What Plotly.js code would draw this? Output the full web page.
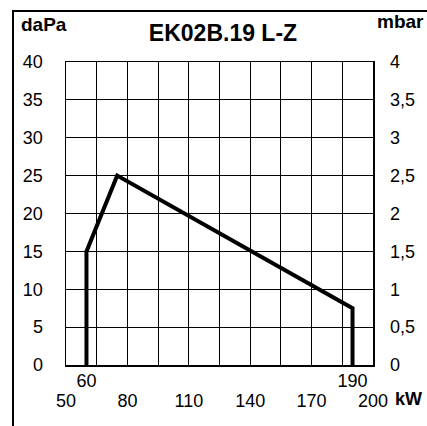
<!DOCTYPE html>
<html><head><meta charset="utf-8">
<script src="https://cdn.plot.ly/plotly-3.0.1.min.js"></script>
<style>
body{margin:0;padding:0;background:#fff;}
#frame{position:absolute;left:12px;top:10px;width:500px;height:500px;border:2px solid #000;box-sizing:border-box;}
#chart{position:absolute;left:0;top:0;width:427px;height:426px;}
</style></head>
<body>
<div id="frame"></div>
<div id="chart"></div>
<script>
// Data
const powerKW = [60, 60, 75, 190, 190];
const pressureDaPa = [0, 15, 25, 7.5, 0];
const gridKW = [50, 65, 80, 95, 110, 125, 140, 155, 170, 185, 200];
const gridLabels = ['50', '', '80', '', '110', '', '140', '', '170', '', '200'];
const rangeTicksKW = [60, 190];
const rangeTickLabels = ['60', '190'];
const daPaTicks = [0, 5, 10, 15, 20, 25, 30, 35, 40];
const mbarTicks = [0, 0.5, 1, 1.5, 2, 2.5, 3, 3.5, 4];
const titleText = 'EK02B.19 L-Z';

const F = 'Liberation Sans, Arial, sans-serif';
const traces = [
  {x: powerKW, y: pressureDaPa, type: 'scatter', mode: 'lines',
   line: {color: '#000', width: 4, shape: 'linear'}, xaxis: 'x', yaxis: 'y',
   hoverinfo: 'skip', showlegend: false},
  {x: [50], y: [0], xaxis: 'x2', yaxis: 'y2', type: 'scatter', mode: 'markers',
   marker: {opacity: 0}, showlegend: false, hoverinfo: 'skip'}
];
const layout = {
  width: 427, height: 426,
  margin: {l: 66, r: 54, t: 62, b: 61},
  paper_bgcolor: 'rgba(0,0,0,0)', plot_bgcolor: '#fff',
  separators: ',.',
  font: {family: F, size: 18, color: '#000'},
  showlegend: false,
  title: {text: '<b>' + titleText + '</b>', x: 223/427, xanchor: 'center',
          y: 1 - 33/426, yanchor: 'middle', font: {family: F, size: 23, color: '#000'}},
  xaxis: {range: [50, 200], tickvals: gridKW, ticktext: gridLabels,
          showgrid: true, gridcolor: '#000', gridwidth: 1,
          showline: true, linecolor: '#000', linewidth: 1.5, mirror: true,
          ticks: '', zeroline: false, ticklabelstandoff: 19, fixedrange: true},
  xaxis2: {overlaying: 'x', anchor: 'y', side: 'bottom', range: [50, 200],
           tickvals: rangeTicksKW, ticktext: rangeTickLabels, showgrid: false,
           showline: false, ticks: '', zeroline: false, ticklabelstandoff: 3},
  yaxis: {range: [0, 40], tickvals: daPaTicks, showgrid: true, gridcolor: '#000', gridwidth: 1,
          showline: true, linecolor: '#000', linewidth: 1.5, mirror: true,
          ticks: '', zeroline: false, ticklabelstandoff: 18},
  yaxis2: {overlaying: 'y', anchor: 'x', side: 'right', range: [0, 4], tickvals: mbarTicks,
           showgrid: false, showline: false, ticks: '', zeroline: false, ticklabelstandoff: 16},
  annotations: [
    {text: '<b>daPa</b>', xref: 'paper', yref: 'paper', x: (44-66)/307, y: (365-25)/303,
     xanchor: 'center', yanchor: 'middle', showarrow: false, font: {family: F, size: 19}},
    {text: '<b>mbar</b>', xref: 'paper', yref: 'paper', x: (400-66)/307, y: (365-22)/303,
     xanchor: 'center', yanchor: 'middle', showarrow: false, font: {family: F, size: 19}},
    {text: '<b>kW</b>', xref: 'paper', yref: 'paper', x: (393-66)/307, y: (365-399)/303,
     xanchor: 'left', yanchor: 'middle', showarrow: false, font: {family: F, size: 18}}
  ]
};
Plotly.newPlot('chart', traces, layout, {staticPlot: true, displayModeBar: false});
</script>
</body></html>
